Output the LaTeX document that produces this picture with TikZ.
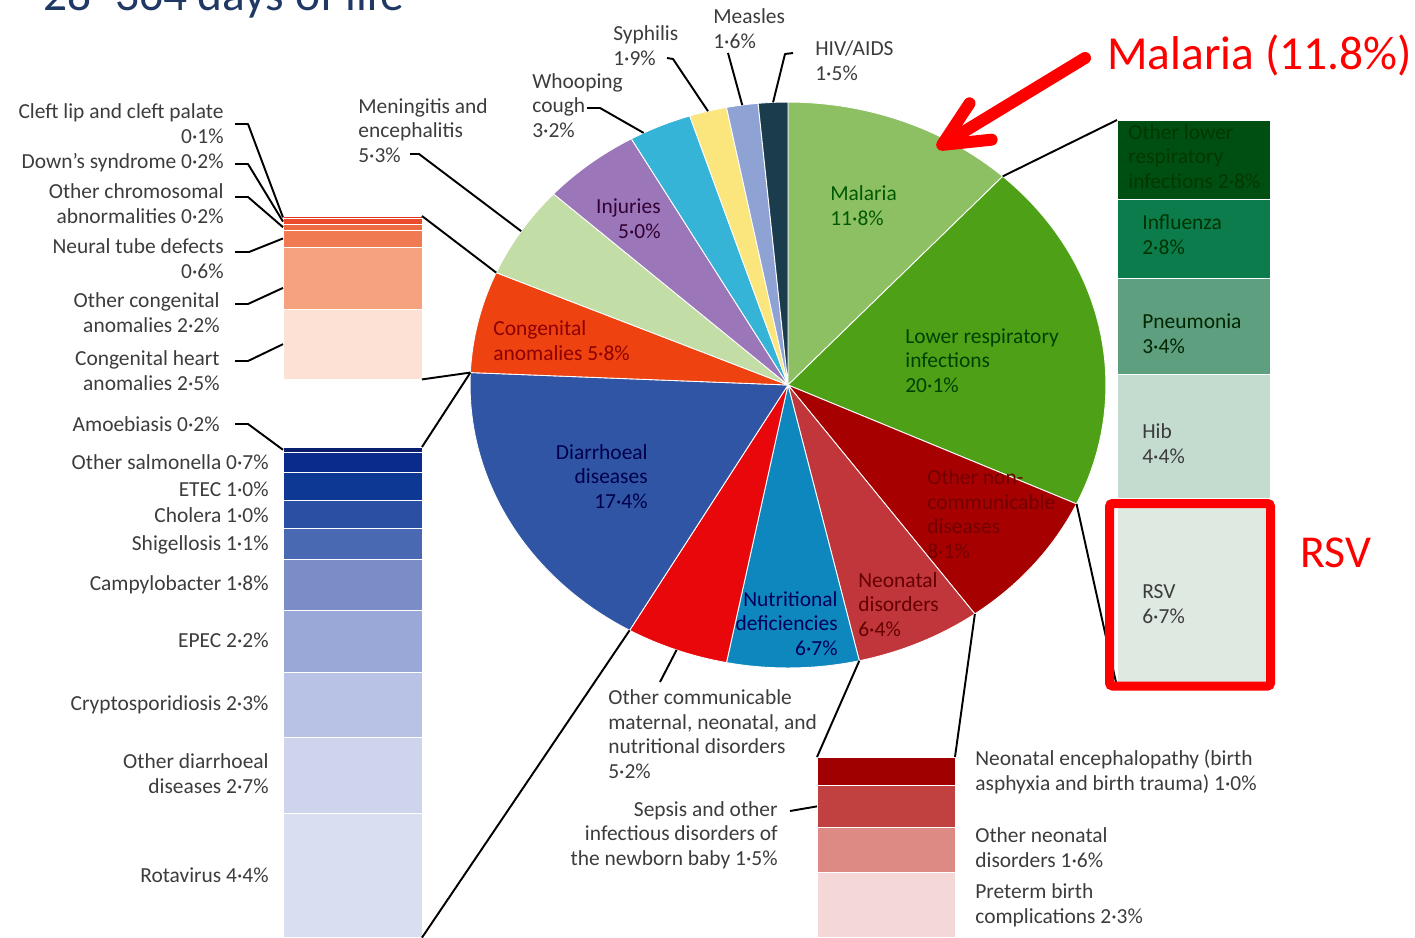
\documentclass[tikz,border=0pt]{standalone}
\usepackage{fontspec}
\setmainfont{Carlito}
\usetikzlibrary{arrows.meta}
\definecolor{cMal}{HTML}{8DC063}
\definecolor{cLri}{HTML}{4EA117}
\definecolor{cNcd}{HTML}{A60000}
\definecolor{cNeo}{HTML}{C1363A}
\definecolor{cNut}{HTML}{0E86BE}
\definecolor{cOcm}{HTML}{E8080C}
\definecolor{cDia}{HTML}{2F55A4}
\definecolor{cCon}{HTML}{EE4211}
\definecolor{cMen}{HTML}{C3DDA6}
\definecolor{cInj}{HTML}{9B76B9}
\definecolor{cWho}{HTML}{35B4D8}
\definecolor{cSyp}{HTML}{FBE57D}
\definecolor{cMea}{HTML}{8EA3D4}
\definecolor{cHiv}{HTML}{1B3C4C}
\definecolor{cCl}{HTML}{E2321E}
\definecolor{cDo}{HTML}{E94B2B}
\definecolor{cCh}{HTML}{EE6A42}
\definecolor{cNt}{HTML}{F07B52}
\definecolor{cOc}{HTML}{F7A27F}
\definecolor{cHt}{HTML}{FDE1D5}
\definecolor{dAm}{HTML}{0C1E6E}
\definecolor{dSa}{HTML}{0B2B8C}
\definecolor{dEt}{HTML}{0D3994}
\definecolor{dCh}{HTML}{2A4FA3}
\definecolor{dSh}{HTML}{4A69B3}
\definecolor{dCa}{HTML}{7A8DC7}
\definecolor{dEp}{HTML}{9AA8D7}
\definecolor{dCr}{HTML}{B7C2E4}
\definecolor{dOt}{HTML}{CDD4EC}
\definecolor{dRo}{HTML}{D9DEF0}
\definecolor{gOl}{HTML}{004F12}
\definecolor{gIn}{HTML}{0C7C4C}
\definecolor{gPn}{HTML}{5E9F80}
\definecolor{gHi}{HTML}{C3DCCF}
\definecolor{gRs}{HTML}{DEE9E1}
\definecolor{nEn}{HTML}{A10000}
\definecolor{nSe}{HTML}{C0413F}
\definecolor{nOt}{HTML}{DD8A85}
\definecolor{nPr}{HTML}{F3D8D7}
\definecolor{labgray}{HTML}{3C3C3C}
\definecolor{ttlnavy}{HTML}{1F3864}
\definecolor{hired}{HTML}{FF0000}

\begin{document}
\begin{tikzpicture}[x=0.02cm,y=-0.02cm,
  lbl/.style={inner sep=0pt,align=left,anchor=base west,text=labgray,font=\fontsize{12.2}{13.9}\selectfont},
  lblr/.style={lbl,align=right,anchor=base east},
  seg/.style={rectangle,inner sep=0pt,outer sep=0pt,anchor=north west,draw=white,line width=0.4pt},
  lead/.style={line width=1.1pt,line join=round},
  big/.style={inner sep=0pt,anchor=base west,font=\fontsize{27}{32}\selectfont}]
\useasboundingbox (0,0) rectangle (1415,937);
\clip (0,0) rectangle (1415,937);
\begin{scope}[shift={(788,385)},x=6.36cm,y=5.66cm]
 \foreach \a/\b/\c in {0/11.8/cMal,11.8/31.9/cLri,31.9/40/cNcd,40/46.4/cNeo,46.4/53.1/cNut,53.1/58.3/cOcm,58.3/75.7/cDia,75.7/81.5/cCon,81.5/86.8/cMen,86.8/91.8/cInj,91.8/95/cWho,95/96.9/cSyp,96.9/98.5/cMea,98.5/100/cHiv}{
  \pgfmathsetmacro\sa{90-3.6*\a}\pgfmathsetmacro\sb{90-3.6*\b}
  \fill[\c,draw=white,line width=0.5pt] (0,0) -- plot[domain=\sa:\sb,samples=40,variable=\t] ({cos(\t)},{sin(\t)}) -- cycle;
 }
 \foreach \n/\p in {pMalLri/11.8,pLriNcd/31.9,pNcdNeo/40,pNeoNut/46.4,pOcm/55.7,pDiaS/58.3,pDiaE/75.7,pConE/81.5,pMen/84.15,pWho/92.5,pSyp/95.95,pMea/97.7,pHiv/99.25}
  \coordinate (\n) at ({cos(90-3.6*\p)},{sin(90-3.6*\p)});
\end{scope}

\foreach \n/\t/\h/\c in {cleft/216/2.8/cCl,down/218.8/5.6/cDo,chrom/224.4/5.6/cCh,neural/230/16.9/cNt,ocong/246.9/62/cOc,heart/308.9/70.5/cHt}
 \node[seg,fill=\c,minimum width=2.78cm,minimum height=\h*0.02cm] (\n) at (283,\t) {};
\foreach \n/\t/\h/\c in {amoeb/447/5.6/dAm,salm/452.6/19.7/dSa,etec/472.3/28.2/dEt,chol/500.5/28.2/dCh,shig/528.7/31/dSh,campy/559.7/50.8/dCa,epec/610.5/62/dEp,crypto/672.5/64.9/dCr,odia/737.4/76.1/dOt,rota/813.5/124.1/dRo}
 \node[seg,fill=\c,minimum width=2.78cm,minimum height=\h*0.02cm] (\n) at (283,\t) {};
\foreach \n/\t/\h/\c in {olri/120/79/gOl,infl/199/79/gIn,pneu/278/95.9/gPn,hib/373.9/124.1/gHi,rsv/498/188.9/gRs}
 \node[seg,fill=\c,minimum width=3.06cm,minimum height=\h*0.02cm] (\n) at (1117,\t) {};
\foreach \n/\t/\h/\c in {enceph/757/28.2/nEn,sepsis/785.2/42.3/nSe,oneo/827.5/45.1/nOt,preterm/872.6/64.9/nPr}
 \node[seg,fill=\c,minimum width=2.76cm,minimum height=\h*0.02cm] (\n) at (817,\t) {};

\foreach \n/\x/\y in {sCleft/235/124,sDown/235/164,sChrom/235/197,sNeural/235/252,sOcong/235/304,sHeart/235/361,sAmoeb/235/424,sMen/410/154,sWho/587/108,sSyp/667/58,sMea/728/53,sHiv/793/53,sOcm/660/682,sSep/790/811,aTail/1085/58,mTip/937/148}
 \coordinate (\n) at (\x,\y);

\draw[lead] (sCleft) -- ++(13,0) -- (cleft.west);
\draw[lead] (sDown) -- ++(13,0) -- (down.west);
\draw[lead] (sChrom) -- ++(13,0) -- (chrom.west);
\draw[lead] (sNeural) -- ++(14,0) -- (neural.west);
\draw[lead] (sOcong) -- ++(13,0) -- ([yshift=-0.2cm]ocong.west);
\draw[lead] (sHeart) -- ++(13,0) -- (heart.west);
\draw[lead] (sAmoeb) -- ++(13,0) -- (amoeb.west);
\draw[lead] (sMen) -- ++(9,0) -- (pMen);
\draw[lead] (sWho) -- ++(13,0) -- (pWho);
\draw[lead] (sSyp) -- ++(6,1) -- (pSyp);
\draw[lead] (sMea) -- (pMea);
\draw[lead] (sHiv) -- ++(-8,1) -- (pHiv);
\draw[lead] (sOcm) -- (pOcm);
\draw[lead] (sSep) -- (sepsis.west);
\draw[lead] (cleft.north east) -- (pConE);
\draw[lead] (heart.south east) -- (pDiaE);
\draw[lead] (amoeb.north east) -- (pDiaE);
\draw[lead] (rota.south east) -- (pDiaS);
\draw[lead] (olri.north west) -- (pMalLri);
\draw[lead] (rsv.south west) -- (pLriNcd);
\draw[lead] (enceph.north west) -- (pNeoNut);
\draw[lead] (enceph.north east) -- (pNcdNeo);

\node[lblr] (lCleft) at (224,143) {Cleft lip and cleft palate\\0·1\%};
\node[lblr] (lDown) at (224,168) {Down’s syndrome 0·2\%};
\node[lblr] (lChrom) at (224,223) {Other chromosomal\\abnormalities 0·2\%\hspace{7pt}};
\node[lblr] (lNeural) at (224,278) {Neural tube defects\\0·6\%};
\node[lblr] (lOcong) at (220,332) {Other congenital\\anomalies 2·2\%};
\node[lblr] (lHeart) at (220,390) {Congenital heart\\anomalies 2·5\%};
\node[lblr] (lAmoeb) at (220,431) {Amoebiasis 0·2\%};
\node[lblr] (lSalm) at (269,469) {Other salmonella 0·7\%};
\node[lblr] (lEtec) at (269,496) {ETEC 1·0\%};
\node[lblr] (lChol) at (269,522) {Cholera 1·0\%};
\node[lblr] (lShig) at (269,550) {Shigellosis 1·1\%};
\node[lblr] (lCampy) at (269,590) {Campylobacter 1·8\%};
\node[lblr] (lEpec) at (269,647) {EPEC 2·2\%};
\node[lblr] (lCrypto) at (269,710) {Cryptosporidiosis 2·3\%};
\node[lblr] (lOdia) at (269,793) {Other diarrhoeal\\diseases 2·7\%};
\node[lblr] (lRota) at (269,882) {Rotavirus 4·4\%};

\node[lbl] (lMen) at (358,162) {Meningitis and\\encephalitis\\5·3\%};
\node[lbl] (lWho) at (532,137) {Whooping\\cough\\3·2\%};
\node[lbl] (lSyp) at (613,65) {Syphilis\\1·9\%};
\node[lbl] (lMea) at (713,48) {Measles\\1·6\%};
\node[lbl] (lHiv) at (815,80) {HIV/AIDS\\1·5\%};

\node[lbl,text=green!35!black] (tMal) at (830,225) {Malaria\\11·8\%};
\node[lbl,text=green!25!black] (tLri) at (905,392) {Lower respiratory\\infections\\20·1\%};
\node[lbl,text=red!45!black] (tNcd) at (927,558) {Other non-\\communicable\\diseases\\8·1\%};
\node[lbl,text=red!40!black] (tNeo) at (858,636) {Neonatal\\disorders\\6·4\%};
\node[lblr,text=blue!35!black] (tNut) at (838,655) {Nutritional\\deficiencies\\6·7\%};
\node[lblr,text=blue!30!black] (tDia) at (648,508) {Diarrhoeal\\diseases\\17·4\%};
\node[lbl,text=red!55!black] (tCon) at (493,360) {Congenital\\anomalies 5·8\%};
\node[lblr,text=violet!40!black] (tInj) at (661,238) {Injuries\\5·0\%};

\node[lbl,text=green!22!black] (tOlri) at (1128,188) {Other lower\\respiratory\\infections 2·8\%};
\node[lbl,text=green!20!black] (tInfl) at (1142,254) {Influenza\\2·8\%};
\node[lbl,text=green!15!black] (tPneu) at (1142,353) {Pneumonia\\3·4\%};
\node[lbl] (tHib) at (1142,463) {Hib\\4·4\%};
\node[lbl] (tRsv) at (1142,623) {RSV\\6·7\%};

\node[lbl] (lOcm) at (608,778) {Other communicable\\maternal, neonatal, and\\nutritional disorders\\5·2\%};
\node[lblr] (lSep) at (778,865) {Sepsis and other\\infectious disorders of\\the newborn baby 1·5\%};
\node[lbl] (lEnc) at (975,790) {Neonatal encephalopathy (birth\\asphyxia and birth trauma) 1·0\%};
\node[lbl] (lOneo) at (975,867) {Other neonatal\\disorders 1·6\%};
\node[lbl] (lPre) at (975,923) {Preterm birth\\complications 2·3\%};

\node[big,text=ttlnavy] (ttl) at (43,10) {28–364 days of life};
\node[big,text=hired] (mal) at (1107,69) {Malaria (11.8\%)};
\node[big,text=hired,font=\fontsize{26}{30}\selectfont] (rsvT) at (1300,567) {RSV};
\draw[hired,line width=0.18cm,rounded corners=0.06cm] (1109.5,503.5) rectangle (1270.5,686);
\draw[hired,line width=0.24cm,line cap=round,-{Straight Barb[round,length=0.9cm,width=0.85cm]}] (aTail) -- (mTip);
\end{tikzpicture}
\end{document}
